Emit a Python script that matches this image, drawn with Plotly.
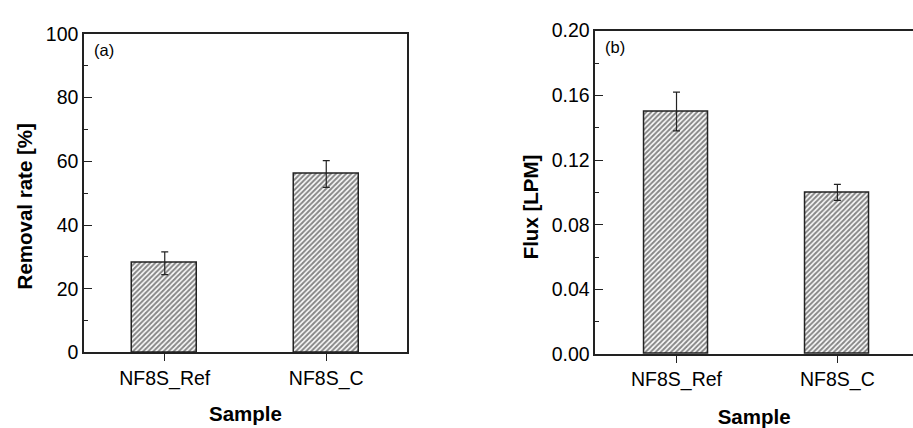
import plotly.graph_objects as go

samples = ["NF8S_Ref", "NF8S_C"]
removal_rate = [28.0, 56.0]
removal_err = [3.6, 4.2]
flux = [0.150, 0.100]
flux_err = [0.012, 0.005]
panel_labels = ["(a)", "(b)"]
x_title = "Sample"
y_titles = ["Removal rate [%]", "Flux [LPM]"]

FONT = "Liberation Sans, Arial, sans-serif"
pos = list(range(len(samples)))

def bar(x, y, err, xa, ya):
    return go.Bar(
        x=x, y=y, width=0.4, xaxis=xa, yaxis=ya, showlegend=False,
        marker=dict(color="white",
                    line=dict(color="#222222", width=1.5),
                    pattern=dict(shape="/", size=3.6, solidity=0.55,
                                 fgcolor="#111111", bgcolor="white",
                                 fillmode="overlay")),
        error_y=dict(type="data", array=err, visible=True,
                     color="#222222", thickness=1.2, width=3.5),
    )

fig = go.Figure()
fig.add_trace(bar(pos, removal_rate, removal_err, "x", "y"))
fig.add_trace(bar(pos, flux, flux_err, "x2", "y2"))

axis_line = dict(showline=True, linecolor="#222222", linewidth=1.5,
                 showgrid=False, zeroline=False)
tickfont = dict(family=FONT, size=19.5, color="#000000")
titlefont = dict(family=FONT, size=20.5, color="#000000", weight="bold")

fig.update_layout(
    width=913, height=428,
    margin=dict(l=0, r=0, t=0, b=0),
    paper_bgcolor="white", plot_bgcolor="white",
    bargap=0,
    xaxis=dict(domain=[0.092, 0.4458], range=[-0.5, 1.5], anchor="y",
               tickvals=pos, ticktext=samples, ticks="outside", ticklen=7,
               tickwidth=1.3, tickcolor="#222222", mirror=True,
               tickfont=tickfont,
               title=dict(text=x_title, font=titlefont, standoff=18),
               **axis_line),
    yaxis=dict(domain=[0.1589, 0.9439], range=[0, 100], anchor="x",
               tickvals=[0, 20, 40, 60, 80, 100], ticks="inside", ticklen=8,
               tickwidth=1.3, tickcolor="#222222", mirror=True,
               minor=dict(dtick=10, ticks="inside", ticklen=4,
                          tickwidth=1.2, tickcolor="#222222"),
               tickfont=tickfont,
               **axis_line),
    xaxis2=dict(domain=[0.652, 1.0], range=[-0.505, 1.47], anchor="y2",
                tickvals=pos, ticktext=samples, ticks="outside", ticklen=7,
                tickwidth=1.3, tickcolor="#222222", mirror=True,
                tickfont=tickfont,
                title=dict(text=x_title, font=titlefont, standoff=22),
                **axis_line),
    yaxis2=dict(domain=[0.1549, 0.9516], range=[0, 0.2], anchor="x2",
                tickvals=[0, 0.04, 0.08, 0.12, 0.16, 0.20], tickformat=".2f",
                ticks="inside", ticklen=8, tickwidth=1.3, tickcolor="#222222",
                minor=dict(dtick=0.02, ticks="inside", ticklen=4,
                           tickwidth=1.2, tickcolor="#222222"),
                tickfont=tickfont,
                **axis_line),
)

# y-axis titles (placed like the original, slightly below the axis centre)
fig.add_annotation(text=y_titles[0], xref="paper", yref="paper",
                   x=24 / 913, y=1 - 206 / 428, textangle=-90,
                   xanchor="center", yanchor="middle", showarrow=False,
                   font=titlefont)
fig.add_annotation(text=y_titles[1], xref="paper", yref="paper",
                   x=530 / 913, y=1 - 207 / 428, textangle=-90,
                   xanchor="center", yanchor="middle", showarrow=False,
                   font=titlefont)

fig.add_annotation(text=panel_labels[0], xref="x domain", yref="y domain",
                   x=0.025, y=0.985, xanchor="left", yanchor="top",
                   showarrow=False, font=dict(family=FONT, size=16.5, color="#000000"))
fig.add_annotation(text=panel_labels[1], xref="x2 domain", yref="y2 domain",
                   x=0.025, y=0.985, xanchor="left", yanchor="top",
                   showarrow=False, font=dict(family=FONT, size=16.5, color="#000000"))

fig.write_html("out.html")
